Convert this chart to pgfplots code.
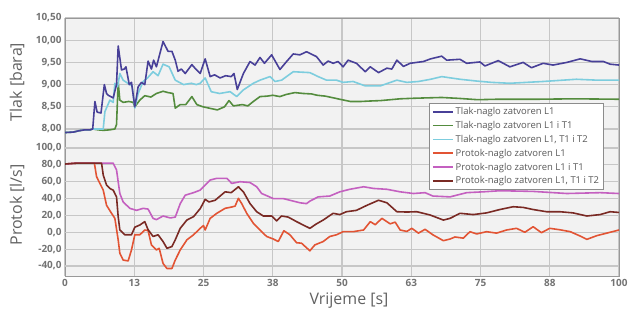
\documentclass[border=0pt]{standalone}
\usepackage{fontspec}
\setmainfont{Open Sans}
\usepackage{pgfplots}
\pgfplotsset{compat=1.18}
\definecolor{cBlue}{RGB}{72,64,152}
\definecolor{cGreen}{RGB}{84,140,62}
\definecolor{cCyan}{RGB}{125,205,222}
\definecolor{cRed}{RGB}{226,84,52}
\definecolor{cMag}{RGB}{196,96,192}
\definecolor{cBrown}{RGB}{122,42,36}
\begin{document}
\begin{tikzpicture}
\pgfplotsset{
  common/.style={
    width=554bp, height=258bp, scale only axis,
    at={(0,0)}, anchor=south west,
    xmin=0, xmax=100,
    xtick={0,12.5,25,37.5,50,62.5,75,87.5,100},
    major tick length=0pt,
    tick label style={font=\fontsize{10}{12}\selectfont\bfseries, text=black!55},
    grid style={draw=black!22, line width=1.1pt},
    every axis plot/.append style={line width=1.6pt, line join=round},
  }
}
% ---------- Tlak ----------
\begin{axis}[common,
  axis background/.style={fill=black!5},
  axis line style={draw=black!40, line width=1pt},
  xmajorgrids, ymajorgrids,
  xticklabels={0,13,25,38,50,63,75,88,100},
  ymin=4.689, ymax=10.5,
  ytick={8,8.5,9,9.5,10,10.5},
  yticklabels={{8,00},{8,50},{9,00},{9,50},{10,00},{10,50}},
]
\addplot[draw=cGreen] coordinates {
(0,7.92) (1.5,7.93) (2.5,7.96) (3.5,7.98) (4.5,7.98) (5.0,8.00) (6.0,7.98) (7.0,7.97) (8.0,7.98) (9.0,8.00) (9.3,8.10) (9.6,9.05) (9.9,8.65) (10.5,8.60) (11.5,8.62) (12.3,8.60) (12.6,8.50) (13.5,8.65) (14.4,8.75) (15.5,8.72) (16.5,8.80) (17.7,8.85) (18.6,8.82) (19.5,8.80) (19.9,8.47) (20.8,8.55) (21.8,8.55) (22.9,8.73) (23.8,8.55) (24.9,8.50) (26.0,8.47) (27.5,8.43) (28.8,8.50) (29.6,8.64) (30.4,8.52) (32.0,8.55) (33.0,8.52) (34.0,8.62) (35.2,8.73) (36.5,8.74) (37.5,8.76) (38.8,8.73) (40.0,8.78) (41.5,8.82) (43.0,8.80) (44.5,8.79) (45.5,8.76) (47.0,8.74) (48.5,8.70) (49.6,8.67) (51.5,8.62) (53.5,8.62) (55.0,8.63) (57.0,8.64) (60.5,8.68) (62.5,8.69) (65.0,8.70) (68.0,8.71) (71.0,8.69) (74.5,8.66) (78.0,8.67) (85.0,8.67) (92.0,8.68) (100,8.67)
};
\addplot[draw=cCyan] coordinates {
(0,7.92) (1.5,7.93) (2.5,7.96) (3.5,7.98) (4.5,7.98) (5.0,8.00) (6.9,8.00) (7.2,8.39) (8.1,8.65) (8.7,8.60) (9.0,9.03) (9.5,8.95) (9.9,9.25) (10.5,9.10) (11.7,9.00) (12.1,8.98) (12.6,8.47) (13.2,8.80) (14.1,9.07) (14.9,9.15) (15.9,9.29) (16.8,9.20) (17.7,9.46) (18.8,9.40) (19.9,9.10) (21.4,9.00) (22.8,9.03) (23.7,9.00) (24.4,9.03) (25.3,9.15) (26.4,8.84) (27.9,8.80) (29.8,8.84) (31.0,8.73) (32.2,8.88) (34.0,9.03) (35.2,9.10) (37.0,9.18) (37.9,9.07) (39.1,9.10) (41.2,9.29) (42.7,9.28) (44.2,9.27) (45.7,9.18) (47.2,9.10) (49.0,9.10) (50.2,9.05) (52.0,9.07) (54.2,8.97) (56.9,8.97) (59.9,9.10) (61.7,9.05) (63.8,9.07) (66.0,9.12) (68.0,9.18) (71.3,9.12) (74.3,9.08) (77.0,9.05) (80.3,9.03) (86.3,9.07) (92.3,9.12) (96.0,9.10) (100,9.10)
};
\addplot[draw=cBlue] coordinates {
(0,7.92) (1.5,7.93) (2.5,7.96) (3.5,7.98) (4.5,7.98) (5.0,8.00) (5.4,8.62) (5.8,8.38) (6.5,8.36) (7.1,9.00) (7.5,8.80) (7.8,8.76) (8.7,8.70) (9.3,9.00) (9.6,9.87) (10.2,9.33) (10.7,9.35) (11.0,9.40) (11.6,9.00) (12.0,9.05) (12.6,8.50) (13.2,8.95) (13.8,9.05) (14.4,9.00) (15.0,9.53) (15.6,9.35) (16.0,9.55) (16.5,9.40) (17.7,9.97) (18.6,9.75) (19.3,9.75) (19.9,9.55) (20.4,9.30) (21.0,9.35) (21.7,9.25) (22.9,9.45) (23.6,9.35) (24.4,9.25) (25.3,9.58) (26.2,9.18) (27.0,9.22) (28.0,9.15) (29.0,9.20) (30.0,9.18) (30.5,9.25) (31.1,8.89) (32.2,9.25) (33.4,9.52) (34.3,9.44) (35.2,9.61) (36.0,9.48) (37.3,9.67) (38.8,9.34) (40.0,9.52) (41.2,9.69) (42.4,9.67) (43.6,9.74) (45.4,9.63) (46.6,9.44) (47.5,9.53) (48.4,9.48) (49.3,9.52) (50.2,9.40) (51.1,9.55) (52.6,9.48) (54.2,9.29) (55.1,9.40) (56.6,9.27) (58.1,9.37) (59.0,9.35) (59.9,9.55) (61.1,9.41) (62.3,9.48) (64.7,9.52) (66.0,9.58) (68.0,9.64) (68.9,9.55) (71.3,9.57) (72.5,9.48) (74.9,9.51) (75.8,9.42) (78.2,9.54) (80.3,9.40) (82.7,9.50) (84.2,9.38) (86.3,9.48) (88.1,9.44) (90.6,9.50) (93.0,9.58) (95.1,9.52) (97.2,9.52) (98.4,9.46) (100,9.44)
};
\end{axis}
% ---------- Protok ----------
\begin{axis}[common,
  axis line style={draw=none},
  ymajorgrids,
  xticklabels={},
  ymin=-51.9, ymax=254.3,
  ytick={-40,-20,0,20,40,60,80,100},
  yticklabels={{-40,0},{-20,0},{0,0},{20,0},{40,0},{60,0},{80,0},{100,0}},
  legend style={at={(0.972,0.6705)}, anchor=north east, draw=black!45, line width=0.8pt, fill=white,
    font=\fontsize{9.5}{11}\selectfont, text=black!65, row sep=1.2pt, inner xsep=2pt, inner ysep=2pt},
  legend cell align=left,
  legend image code/.code={\draw[#1] (0bp,0bp) -- (20bp,0bp);},
]
\addlegendimage{draw=cBlue, line width=1.8pt}
\addlegendentry{Tlak-naglo zatvoren L1}
\addlegendimage{draw=cGreen, line width=1.8pt}
\addlegendentry{Tlak-naglo zatvoren L1 i T1}
\addlegendimage{draw=cCyan, line width=1.8pt}
\addlegendentry{Tlak-naglo zatvoren L1, T1 i T2}
\addlegendimage{draw=cRed, line width=1.8pt}
\addlegendentry{Protok-naglo zatvoren L1}
\addlegendimage{draw=cMag, line width=1.8pt}
\addlegendentry{Protok-naglo zatvoren L1 i T1}
\addlegendimage{draw=cBrown, line width=1.8pt}
\addlegendentry{Protok-naglo zatvoren L1, T1 i T2}
\addplot[draw=cRed, forget plot] coordinates {
(0,81) (2,82) (5.3,82) (5.7,66) (6.3,58) (6.9,50) (7.5,32) (8.4,22.5) (9.0,16.5) (9.6,-9) (9.9,-25) (10.5,-33) (11.4,-34) (12.0,-21) (12.6,-3) (13.5,-3) (14.4,2.7) (15.0,2) (15.6,-15) (16.5,-21) (17.0,-19) (17.7,-37) (18.4,-43) (19.3,-43) (19.9,-33) (20.8,-21) (22.0,-9) (23.2,-3) (24.4,4.7) (25.0,8) (25.3,2.7) (26.2,16.5) (27.4,22.5) (28.9,28.4) (30.1,30) (30.7,31) (31.3,40.3) (31.9,34) (32.8,22.5) (34.0,10.6) (35.5,0.7) (36.4,-5) (37.6,-8) (38.5,-11) (39.5,1.8) (40.6,-3) (41.8,-12.4) (42.7,-13) (44.2,-22) (45.1,-15) (46.6,-11) (47.8,-5) (49.0,-3) (50.2,0.7) (52.0,0.7) (53.9,2.7) (55.1,12.6) (56.0,9) (57.2,16.5) (58.7,10) (59.6,12) (60.5,2.7) (61.7,1) (62.6,4.7) (63.8,-1) (65.0,3.5) (66.4,-3) (68.3,-10) (69.5,-8) (70.4,-5.6) (71.9,-7) (73.1,0.7) (74.3,-2) (76.1,0.7) (77.9,-1) (79.7,2.7) (81.5,4.7) (83.0,0) (84.5,6.6) (86.0,-0.5) (87.5,4.7) (89.3,3) (91.2,0.7) (93.0,-4.5) (94.2,-8.4) (96.0,-4) (97.8,-1) (100,2.7)
};
\addplot[draw=cMag, forget plot] coordinates {
(0,81) (2,82) (8.7,82) (9.3,74) (9.9,46) (10.5,36) (11.7,28.4) (12.9,26) (14.1,28.4) (15.0,27.5) (15.9,16.5) (16.5,15) (17.7,19.3) (19.0,17) (19.9,18) (20.8,34) (21.7,44) (23.2,47) (24.4,50) (25.3,56) (26.2,62) (27.4,64) (29.2,64) (30.1,58) (31.6,60) (33.4,59) (34.6,54) (35.5,46) (37.6,40) (39.4,40) (40.6,38) (42.4,35) (43.6,34) (44.2,37) (45.7,42) (47.8,43) (49.6,48) (51.4,51) (53.9,54) (55.7,52) (58.1,51) (60.5,48) (62.9,46) (65.0,47) (66.4,43) (69.5,42) (72.5,47) (75.5,48) (78.5,49.3) (84.5,48.5) (90.6,46) (96.6,47) (100,46)
};
\addplot[draw=cBrown, forget plot] coordinates {
(0,81) (2,82) (6.6,82) (6.9,68) (7.5,56) (8.1,52) (8.7,50) (9.3,42) (9.6,18.5) (9.9,2.7) (10.8,-3) (12.0,-3) (12.6,6) (13.5,8.6) (14.4,12.6) (15.0,3) (15.9,-5) (16.8,-3) (17.7,-11) (18.4,-19) (19.3,-17) (19.9,-9) (20.8,4.7) (22.0,14.5) (23.2,18.5) (24.4,28) (25.3,39) (26.0,36) (27.1,38) (28.9,48) (30.0,47) (31.3,54) (32.2,48) (33.4,34) (34.6,24.4) (35.8,19.3) (37.3,19.3) (38.2,13.4) (39.1,19.3) (40.3,18) (41.8,12.6) (43.0,8.6) (44.2,4.7) (45.4,10) (46.6,14.5) (48.4,22.5) (49.6,21) (50.8,24.4) (52.6,26) (54.5,32) (56.6,38) (58.1,35) (59.9,24.4) (61.7,24) (63.5,24.4) (65.9,20.5) (68.3,14.5) (69.5,16.5) (71.3,22.5) (73.7,21) (76.1,23) (78.5,27) (80.9,30.3) (82.7,29.5) (84.5,27) (86.9,24.4) (89.3,24.4) (91.7,23) (94.2,19.3) (96.6,21) (98.4,24.4) (100,23.5)
};
\end{axis}
\node[rotate=90, font=\fontsize{16}{18}\selectfont, text=black!62] at (-48bp,194bp) {Tlak [bara]};
\node[rotate=90, font=\fontsize{16}{18}\selectfont, text=black!62] at (-48bp,71bp) {Protok [l/s]};
\node[font=\fontsize{16}{18}\selectfont, text=black!62] at (284bp,-25bp) {Vrijeme [s]};
\pgfresetboundingbox
\path[use as bounding box] (-65bp,-35bp) rectangle (565bp,276bp);
\end{tikzpicture}
\end{document}
